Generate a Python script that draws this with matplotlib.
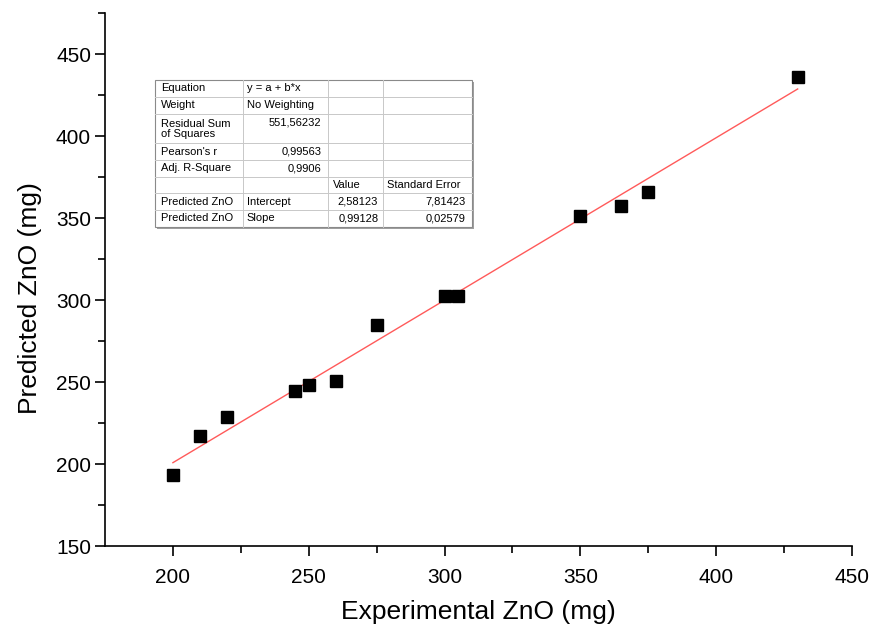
import matplotlib
matplotlib.use("Agg")
import matplotlib.pyplot as plt
from matplotlib.lines import Line2D
from matplotlib.patches import Rectangle
import numpy as np

plt.rcParams['font.family'] = ['Liberation Sans', 'DejaVu Sans']

# Data
experimental = [200, 210, 220, 245, 250, 260, 275, 300, 305, 350, 365, 375, 430]
predicted = [193.3, 217.2, 228.8, 244.7, 248.3, 250.8, 285.0, 302.7, 302.7, 351.6, 357.7, 366.2, 436.3]
intercept = 2.58123
slope = 0.99128

xticks = [200, 250, 300, 350, 400, 450]
yticks = [150, 200, 250, 300, 350, 400, 450]

table_rows = [
    ["Equation", "y = a + b*x", "", ""],
    ["Weight", "No Weighting", "", ""],
    ["Residual Sum\nof Squares", "551,56232", "", ""],
    ["Pearson's r", "0,99563", "", ""],
    ["Adj. R-Square", "0,9906", "", ""],
    ["", "", "Value", "Standard Error"],
    ["Predicted ZnO", "Intercept", "2,58123", "7,81423"],
    ["Predicted ZnO", "Slope", "0,99128", "0,02579"],
]

W, H = 871, 625
fig = plt.figure(figsize=(W / 100, H / 100), dpi=100)
ax = fig.add_axes([105 / W, 1 - 546 / H, (852 - 105) / W, (546 - 13.3) / H])

ax.plot(experimental, predicted, 's', color='black', markersize=8.6, zorder=3)
xfit = np.array([min(experimental), max(experimental)])
ax.plot(xfit, intercept + slope * xfit, '-', color='#ff5a5a', lw=1.0, zorder=2)

ax.set_xlim(175, 450)
ax.set_ylim(150, 475)
ax.set_xticks(xticks)
ax.set_yticks(yticks)
ax.set_xticks([225, 275, 325, 375, 425], minor=True)
ax.set_yticks([175, 225, 275, 325, 375, 425, 475], minor=True)
for s in ['top', 'right']:
    ax.spines[s].set_visible(False)
for s in ['left', 'bottom']:
    ax.spines[s].set_linewidth(1.2)
ax.tick_params(which='major', direction='out', length=7, width=1.2, labelsize=15)
ax.tick_params(axis='y', which='major', pad=3)
ax.tick_params(axis='x', which='major', pad=9)
ax.tick_params(which='minor', direction='out', length=5, width=1.2)
ax.set_xlabel("Experimental ZnO (mg)", fontsize=19, labelpad=9)
ax.set_ylabel("Predicted ZnO (mg)", fontsize=19, labelpad=8)
ax.yaxis.set_label_coords(-0.085, 0.466)

# Table in figure pixel coordinates
def fx(px):
    return px / W

def fy(py):
    return 1 - py / H

col_edges = [155, 243.3, 327.7, 383.3, 471.7]
row_edges = [80, 96.7, 114.3, 143.3, 160, 176.7, 193.3, 210, 226.7]

# shadow
fig.add_artist(Rectangle((fx(col_edges[0] + 2), fy(row_edges[-1] + 2)),
                         fx(col_edges[-1] - col_edges[0]), (row_edges[-1] - row_edges[0]) / H,
                         facecolor='#a0a0a0', edgecolor='none', zorder=4))
fig.add_artist(Rectangle((fx(col_edges[0]), fy(row_edges[-1])),
                         fx(col_edges[-1] - col_edges[0]), (row_edges[-1] - row_edges[0]) / H,
                         facecolor='white', edgecolor='#8a8a8a', lw=0.8, zorder=5))
for xe in col_edges[1:-1]:
    fig.add_artist(Line2D([fx(xe), fx(xe)], [fy(row_edges[0]), fy(row_edges[-1])],
                          color='#c8c8c8', lw=0.7, zorder=6))
for ye in row_edges[1:-1]:
    fig.add_artist(Line2D([fx(col_edges[0]), fx(col_edges[-1])], [fy(ye), fy(ye)],
                          color='#c8c8c8', lw=0.7, zorder=6))

fs = 8
for r, row in enumerate(table_rows):
    top, bot = row_edges[r], row_edges[r + 1]
    yc = (top + bot) / 2
    two_line = "\n" in row[0]
    for c, txt in enumerate(row):
        if not txt:
            continue
        numeric = txt[0].isdigit()
        if c == 0:
            x, ha = col_edges[0] + 6, 'left'
        elif c == 1:
            if numeric:
                x, ha = col_edges[2] - 6, 'right'
            else:
                x, ha = col_edges[1] + 3.5, 'left'
        elif c == 2:
            if numeric:
                x, ha = col_edges[3] - 5, 'right'
            else:
                x, ha = col_edges[2] + 5, 'left'
        else:
            if numeric:
                x, ha = col_edges[4] - 6.5, 'right'
            else:
                x, ha = col_edges[3] + 4, 'left'
        if two_line and c != 0:
            fig.text(fx(x), fy(top + 8), txt, ha=ha, va='center', fontsize=fs, zorder=7)
        else:
            fig.text(fx(x), fy(yc), txt, ha=ha, va='center', fontsize=fs,
                     linespacing=1.0, zorder=7)

fig.savefig("out.png", dpi=100)
